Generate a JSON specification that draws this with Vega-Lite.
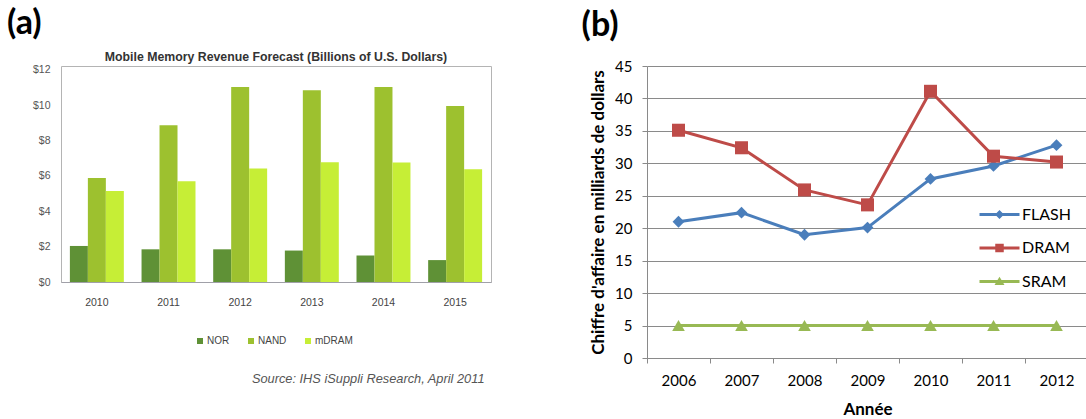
{
  "$schema": "https://vega.github.io/schema/vega-lite/v6.json",
  "padding": {"left": 6, "top": 7, "right": 0, "bottom": 0},
  "background": "white",
  "config": {"view": {"stroke": null}},
  "spacing": 89,
  "align": "none",
  "resolve": {"scale": {"color": "independent", "shape": "independent"}, "legend": {"color": "independent", "shape": "independent"}},
  "datasets": {
    "mem": [
      {"year": "2010", "type": "NOR", "value": 2.04},
      {"year": "2010", "type": "NAND", "value": 5.89},
      {"year": "2010", "type": "mDRAM", "value": 5.15},
      {"year": "2011", "type": "NOR", "value": 1.85},
      {"year": "2011", "type": "NAND", "value": 8.87},
      {"year": "2011", "type": "mDRAM", "value": 5.7},
      {"year": "2012", "type": "NOR", "value": 1.85},
      {"year": "2012", "type": "NAND", "value": 11.04},
      {"year": "2012", "type": "mDRAM", "value": 6.42},
      {"year": "2013", "type": "NOR", "value": 1.78},
      {"year": "2013", "type": "NAND", "value": 10.85},
      {"year": "2013", "type": "mDRAM", "value": 6.78},
      {"year": "2014", "type": "NOR", "value": 1.5},
      {"year": "2014", "type": "NAND", "value": 11.04},
      {"year": "2014", "type": "mDRAM", "value": 6.76},
      {"year": "2015", "type": "NOR", "value": 1.24},
      {"year": "2015", "type": "NAND", "value": 9.96},
      {"year": "2015", "type": "mDRAM", "value": 6.38}
    ],
    "rev": [
      {"year": "2006", "series": "FLASH", "value": 21.0},
      {"year": "2007", "series": "FLASH", "value": 22.4},
      {"year": "2008", "series": "FLASH", "value": 19.0},
      {"year": "2009", "series": "FLASH", "value": 20.1},
      {"year": "2010", "series": "FLASH", "value": 27.6},
      {"year": "2011", "series": "FLASH", "value": 29.6},
      {"year": "2012", "series": "FLASH", "value": 32.8},
      {"year": "2006", "series": "DRAM", "value": 35.1},
      {"year": "2007", "series": "DRAM", "value": 32.4},
      {"year": "2008", "series": "DRAM", "value": 25.9},
      {"year": "2009", "series": "DRAM", "value": 23.6},
      {"year": "2010", "series": "DRAM", "value": 41.1},
      {"year": "2011", "series": "DRAM", "value": 31.1},
      {"year": "2012", "series": "DRAM", "value": 30.2},
      {"year": "2006", "series": "SRAM", "value": 5},
      {"year": "2007", "series": "SRAM", "value": 5},
      {"year": "2008", "series": "SRAM", "value": 5},
      {"year": "2009", "series": "SRAM", "value": 5},
      {"year": "2010", "series": "SRAM", "value": 5},
      {"year": "2011", "series": "SRAM", "value": 5},
      {"year": "2012", "series": "SRAM", "value": 5}
    ]
  },
  "hconcat": [
    {
      "title": {"text": "(a)", "anchor": "start", "dx": -25, "fontSize": 34, "font": "Lato", "fontWeight": "bold", "color": "black", "offset": 9},
      "vconcat": [
        {
          "data": {"name": "mem"},
          "width": 430,
          "height": 216,
          "view": {"stroke": "#b4b4b4"},
          "title": {"text": "Mobile Memory Revenue Forecast (Billions of U.S. Dollars)", "anchor": "middle", "font": "Liberation Sans", "fontSize": 12.3, "fontWeight": "bold", "color": "#333333", "offset": 2},
          "mark": {"type": "bar"},
          "encoding": {
            "x": {
              "field": "year", "type": "nominal",
              "scale": {"paddingInner": 0.247, "paddingOuter": 0.124},
              "axis": {
                "labelAngle": 0, "ticks": false, "domainColor": "#a0a0a8",
                "labelFont": "Liberation Sans", "labelFontSize": 10.5, "labelColor": "#444444", "labelPadding": 15,
                "title": "Source: IHS iSuppli Research, April 2011",
                "titleFont": "Liberation Sans", "titleFontSize": 12.8, "titleFontStyle": "italic", "titleFontWeight": "normal", "titleColor": "#555555",
                "titleAlign": "right", "titleAnchor": "end", "titleX": 423, "titleY": 100, "titleBaseline": "alphabetic"
              }
            },
            "xOffset": {"field": "type", "type": "nominal", "sort": ["NOR", "NAND", "mDRAM"], "scale": {"paddingInner": 0, "paddingOuter": 0}},
            "y": {
              "field": "value", "type": "quantitative",
              "scale": {"domain": [0, 12.226], "nice": false},
              "axis": {
                "values": [0, 2, 4, 6, 8, 10, 12], "format": "$.0f", "grid": false, "ticks": false, "domain": false,
                "labelFont": "Liberation Sans", "labelFontSize": 10.5, "labelColor": "#555555", "labelPadding": 11,
                "title": null
              }
            },
            "color": {
              "field": "type", "type": "nominal",
              "scale": {"domain": ["NOR", "NAND", "mDRAM"], "range": ["#5f9136", "#9dc12f", "#c6ee36"]},
              "legend": {
                "orient": "none", "legendX": 134, "legendY": 270, "direction": "horizontal", "title": null,
                "symbolType": "square", "symbolSize": 36, "labelFont": "Liberation Sans", "labelFontSize": 10,
                "labelColor": "#444444", "columnPadding": 16, "labelOffset": 2
              }
            }
          }
        }
      ]
    },
    {
      "title": {"text": "(b)", "anchor": "start", "dx": -8, "fontSize": 34, "font": "Lato", "fontWeight": "bold", "color": "black", "offset": 16},
      "vconcat": [
        {
          "data": {"name": "rev"},
          "width": 441,
          "height": 292,
          "encoding": {
            "x": {
              "field": "year", "type": "ordinal", "bandPosition": 0.5,
              "scale": {"type": "band", "paddingInner": 0, "paddingOuter": 0},
              "axis": {
                "labelAngle": 0, "tickBand": "extent", "ticks": true, "tickSize": 5, "tickColor": "#8a8a8a", "domainColor": "#8a8a8a",
                "labelFont": "Lato", "labelFontSize": 15, "labelColor": "black", "labelPadding": 10,
                "title": "Année", "titleFont": "Lato", "titleFontSize": 17, "titleFontWeight": "bold", "titleColor": "black", "titlePadding": 13
              }
            },
            "y": {
              "field": "value", "type": "quantitative",
              "scale": {"domain": [0, 45]},
              "axis": {
                "values": [0, 5, 10, 15, 20, 25, 30, 35, 40, 45], "grid": true, "gridColor": "#8a8a8a",
                "tickSize": 5, "tickColor": "#8a8a8a", "domainColor": "#8a8a8a",
                "labelFont": "Lato", "labelFontSize": 15, "labelColor": "black", "labelPadding": 10,
                "title": "Chiffre d'affaire en milliards de dollars", "titleFont": "Lato", "titleFontSize": 17, "titleFontWeight": "bold", "titleColor": "black", "titlePadding": 7
              }
            },
            "color": {
              "field": "series", "type": "nominal",
              "scale": {"domain": ["FLASH", "DRAM", "SRAM"], "range": ["#4a7ebb", "#be4b48", "#98b954"]},
              "legend": {
                "orient": "none", "legendX": 340, "legendY": 136, "title": null,
                "symbolSize": 625, "symbolOpacity": 1, "symbolStrokeWidth": 0, "rowPadding": 12.5, "labelOffset": 10,
                "labelFont": "Lato", "labelFontSize": 16, "labelColor": "black"
              }
            }
          },
          "layer": [
            {"mark": {"type": "line", "strokeWidth": 3}},
            {
              "transform": [{"filter": "datum.series === 'FLASH'"}],
              "mark": {"type": "point", "filled": true, "opacity": 1, "shape": "diamond", "size": 140}
            },
            {
              "transform": [{"filter": "datum.series === 'DRAM'"}],
              "mark": {"type": "point", "filled": true, "opacity": 1, "shape": "square", "size": 170}
            },
            {
              "transform": [{"filter": "datum.series === 'SRAM'"}],
              "mark": {"type": "point", "filled": true, "opacity": 1, "shape": "triangle-up", "size": 160}
            },
            {
              "mark": {"type": "point", "filled": true, "opacity": 0},
              "encoding": {
                "shape": {
                  "field": "series", "type": "nominal",
                  "scale": {"domain": ["FLASH", "DRAM", "SRAM"], "range": [
                    "M-1.6,-0.12H1.6V0.12H-1.6ZM0,-0.36L0.36,0L0,0.36L-0.36,0Z",
                    "M-1.6,-0.12H1.6V0.12H-1.6ZM-0.34,-0.34H0.34V0.34H-0.34Z",
                    "M-1.6,-0.12H1.6V0.12H-1.6ZM-0.4,0.28L0,-0.38L0.4,0.28Z"
                  ]},
                  "legend": {
                    "orient": "none", "legendX": 340, "legendY": 136, "title": null,
                    "symbolSize": 625, "symbolOpacity": 1, "symbolStrokeWidth": 0, "rowPadding": 12.5, "labelOffset": 10,
                    "labelFont": "Lato", "labelFontSize": 16, "labelColor": "black"
                  }
                }
              }
            }
          ]
        }
      ]
    }
  ]
}
